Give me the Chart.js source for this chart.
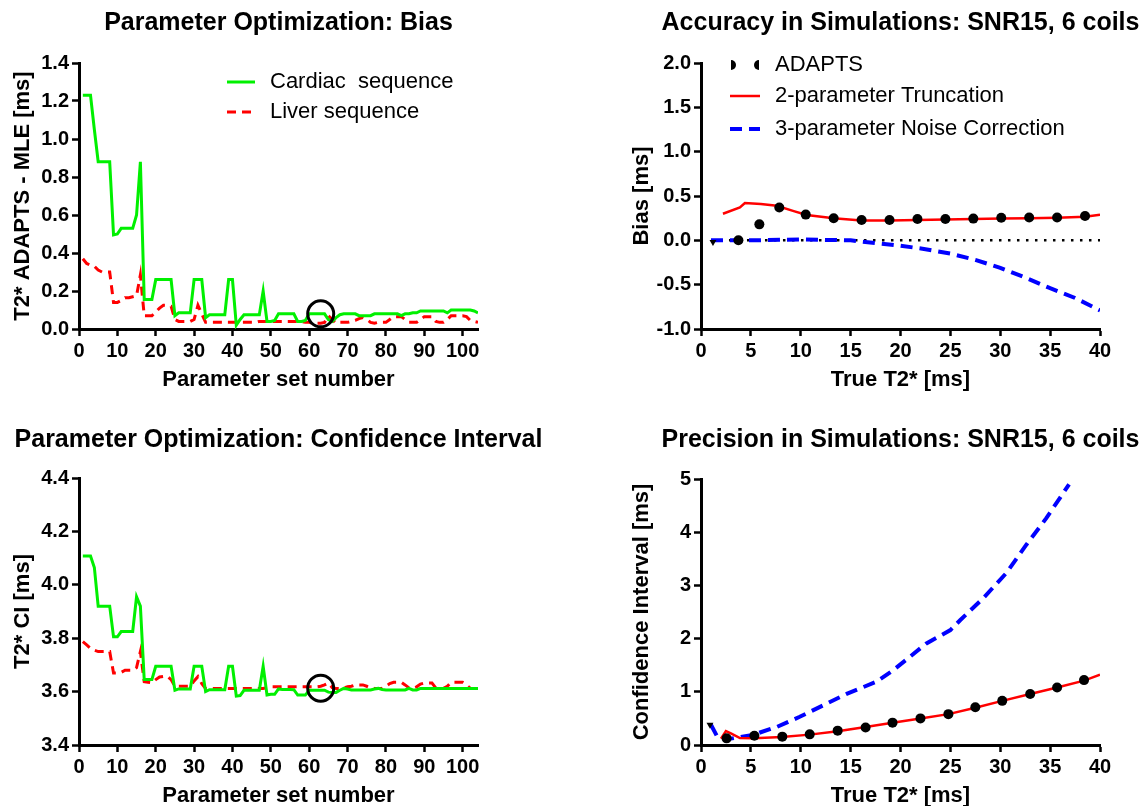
<!DOCTYPE html>
<html>
<head>
<meta charset="utf-8">
<title>T2* parameter optimization and simulations</title>
<script src="https://cdn.jsdelivr.net/npm/chart.js@4.4.0/dist/chart.umd.min.js"></script>
<style>
  html, body { margin: 0; padding: 0; background: #fff; overflow: hidden; width: 1147px; height: 806px; }
  canvas { position: absolute; }
</style>
</head>
<body>
<canvas id="biasOpt" width="573" height="415" style="left:0;top:0"></canvas>
<canvas id="ciOpt" width="573" height="420" style="left:0;top:415px"></canvas>
<canvas id="accuracy" width="574" height="415" style="left:573px;top:0"></canvas>
<canvas id="precision" width="574" height="420" style="left:573px;top:415px"></canvas>
<script>
// ---- Parameter optimization (left column) ----
const setNumber = Array.from({ length: 104 }, (_, i) => i + 1);

const cardiacBias = [
  1.23, 1.23, 1.23, 1.05, 0.88, 0.88, 0.88, 0.88, 0.495, 0.50,
  0.53, 0.53, 0.53, 0.53, 0.60, 0.88, 0.155, 0.155, 0.155, 0.26,
  0.26, 0.26, 0.26, 0.26, 0.07, 0.085, 0.085, 0.085, 0.085, 0.26,
  0.26, 0.26, 0.06, 0.075, 0.075, 0.075, 0.075, 0.075, 0.26, 0.26,
  0.02, 0.05, 0.075, 0.075, 0.075, 0.075, 0.075, 0.20, 0.04, 0.04,
  0.045, 0.08, 0.08, 0.08, 0.08, 0.08, 0.04, 0.04, 0.045, 0.08,
  0.08, 0.08, 0.08, 0.08, 0.05, 0.04, 0.06, 0.075, 0.08, 0.08,
  0.08, 0.08, 0.07, 0.07, 0.07, 0.07, 0.08, 0.08, 0.08, 0.08,
  0.08, 0.08, 0.08, 0.07, 0.08, 0.08, 0.085, 0.085, 0.095, 0.095,
  0.095, 0.095, 0.095, 0.095, 0.095, 0.085, 0.10, 0.10, 0.10, 0.10,
  0.10, 0.10, 0.095, 0.085
];
const liverBias = [
  0.37, 0.345, 0.335, 0.33, 0.31, 0.30, 0.30, 0.30, 0.14, 0.14,
  0.15, 0.165, 0.165, 0.17, 0.175, 0.285, 0.07, 0.07, 0.07, 0.09,
  0.11, 0.125, 0.125, 0.12, 0.05, 0.04, 0.04, 0.04, 0.04, 0.05,
  0.125, 0.08, 0.035, 0.035, 0.035, 0.035, 0.035, 0.035, 0.035, 0.035,
  0.035, 0.035, 0.035, 0.035, 0.035, 0.035, 0.04, 0.04, 0.04, 0.04,
  0.04, 0.04, 0.04, 0.04, 0.04, 0.04, 0.04, 0.04, 0.035, 0.035,
  0.03, 0.03, 0.03, 0.035, 0.07, 0.05, 0.03, 0.035, 0.035, 0.035,
  0.04, 0.045, 0.055, 0.06, 0.05, 0.035, 0.03, 0.035, 0.035, 0.035,
  0.05, 0.065, 0.065, 0.065, 0.05, 0.035, 0.035, 0.035, 0.05, 0.065,
  0.065, 0.065, 0.04, 0.035, 0.035, 0.05, 0.07, 0.07, 0.07, 0.07,
  0.065, 0.045, 0.04, 0.035
];
const cardiacCI = [
  4.108, 4.108, 4.108, 4.065, 3.92, 3.92, 3.92, 3.92, 3.805, 3.805,
  3.825, 3.825, 3.825, 3.825, 3.955, 3.92, 3.645, 3.645, 3.645, 3.695,
  3.695, 3.695, 3.695, 3.695, 3.605, 3.61, 3.61, 3.61, 3.61, 3.695,
  3.695, 3.695, 3.60, 3.607, 3.607, 3.607, 3.607, 3.607, 3.695, 3.695,
  3.583, 3.585, 3.605, 3.605, 3.605, 3.605, 3.605, 3.695, 3.587, 3.59,
  3.59, 3.61, 3.608, 3.608, 3.608, 3.607, 3.587, 3.587, 3.587, 3.605,
  3.605, 3.605, 3.605, 3.605, 3.598, 3.597, 3.597, 3.605, 3.612, 3.61,
  3.606, 3.606, 3.606, 3.606, 3.606, 3.606, 3.61, 3.612, 3.608, 3.606,
  3.606, 3.606, 3.606, 3.606, 3.606, 3.612, 3.606, 3.606, 3.612, 3.612,
  3.612, 3.612, 3.612, 3.612, 3.612, 3.612, 3.612, 3.612, 3.612, 3.612,
  3.612, 3.612, 3.612, 3.612
];
const liverCI = [
  3.787, 3.775, 3.762, 3.755, 3.75, 3.75, 3.75, 3.75, 3.67, 3.67,
  3.672, 3.68, 3.68, 3.68, 3.69, 3.75, 3.637, 3.635, 3.633, 3.645,
  3.655, 3.657, 3.658, 3.645, 3.62, 3.62, 3.62, 3.62, 3.62, 3.64,
  3.656, 3.63, 3.612, 3.612, 3.612, 3.612, 3.612, 3.612, 3.612, 3.612,
  3.612, 3.612, 3.612, 3.612, 3.612, 3.612, 3.612, 3.612, 3.615, 3.618,
  3.618, 3.618, 3.618, 3.618, 3.618, 3.618, 3.618, 3.618, 3.618, 3.618,
  3.618, 3.618, 3.62, 3.625, 3.632, 3.615, 3.612, 3.612, 3.614, 3.618,
  3.62, 3.625, 3.625, 3.625, 3.62, 3.614, 3.612, 3.612, 3.612, 3.62,
  3.63, 3.635, 3.635, 3.635, 3.625, 3.614, 3.613, 3.618, 3.628, 3.632,
  3.632, 3.632, 3.614, 3.612, 3.612, 3.62, 3.635, 3.635, 3.635, 3.635,
  3.625, 3.612, 3.612, 3.612
];
// chosen parameter set (ringed)
const chosenSet = [63];
const chosenBias = [0.08];
const chosenCI = [3.613];

// ---- Simulations, SNR15, 6 coils (right column) ----
const adaptsT2Acc = [1.2, 3.75, 5.85, 7.85, 10.5, 13.3, 16.1, 18.9, 21.7, 24.5, 27.3, 30.1, 32.9, 35.7, 38.5];
const adaptsBias  = [-0.02, 0.0, 0.18, 0.37, 0.29, 0.25, 0.23, 0.23, 0.24, 0.24, 0.245, 0.255, 0.257, 0.257, 0.275];
const truncT2Acc  = [2.2, 3.9, 4.4, 6.0, 7.6, 9.3, 10.6, 13.3, 16.1, 18.9, 21.7, 24.5, 27.3, 30.1, 32.9, 35.7, 38.5, 40];
const truncBias   = [0.30, 0.37, 0.42, 0.41, 0.39, 0.33, 0.285, 0.25, 0.225, 0.225, 0.23, 0.235, 0.24, 0.245, 0.25, 0.255, 0.265, 0.29];
const noiseT2Acc  = [1, 5, 10, 12.5, 15, 17.5, 20, 22.5, 25, 27.5, 30, 32.5, 35, 37.5, 40];
const noiseBias   = [0, 0, 0.01, 0.005, 0, -0.03, -0.06, -0.1, -0.15, -0.22, -0.31, -0.42, -0.54, -0.65, -0.79];
const zeroT2      = [1, 40];
const zeroBias    = [0, 0];

const adaptsT2Prec = [0.9, 2.57, 5.35, 8.15, 10.9, 13.7, 16.5, 19.2, 22.0, 24.8, 27.5, 30.2, 33.0, 35.7, 38.4];
const adaptsCI     = [0.38, 0.125, 0.175, 0.157, 0.20, 0.27, 0.33, 0.42, 0.50, 0.58, 0.71, 0.83, 0.96, 1.08, 1.22];
const truncT2Prec  = [2.0, 2.5, 3.0, 3.9, 5.3, 8.1, 10.9, 13.7, 16.5, 19.2, 22.0, 24.8, 27.5, 30.2, 33.0, 35.7, 38.4, 40];
const truncCI      = [0.12, 0.26, 0.22, 0.13, 0.125, 0.15, 0.195, 0.26, 0.34, 0.42, 0.50, 0.58, 0.70, 0.83, 0.96, 1.08, 1.21, 1.32];
const noiseT2Prec  = [1.0, 1.7, 3.0, 5.2, 7.6, 9.9, 12.3, 14.6, 17.6, 19.3, 22.6, 25.0, 26.0, 28.3, 30.6, 32.6, 34.6, 36.9];
const noiseCI      = [0.38, 0.13, 0.12, 0.19, 0.34, 0.53, 0.75, 0.96, 1.19, 1.41, 1.91, 2.16, 2.35, 2.76, 3.23, 3.76, 4.26, 4.9];

// ---- helpers ----
const FONT = '"Liberation Sans", Arial, Helvetica, sans-serif';
Chart.defaults.font.family = FONT;
Chart.defaults.color = '#000';
Chart.defaults.animation = false;
Chart.defaults.events = [];

const GREEN = '#00f000';
const RED = '#ff0000';
const BLUE = '#0000ff';

const pts = (xs, ys) => xs.map((x, i) => ({ x, y: ys[i] }));
const fixed = d => v => (Math.abs(v) < 1e-9 ? 0 : v).toFixed(d);

// panel heading, centred over the plot area
const panelTitle = {
  id: 'panelTitle',
  afterDraw(chart, args, o) {
    const { ctx, chartArea } = chart;
    ctx.save();
    ctx.font = 'bold 25px ' + FONT;
    ctx.fillStyle = '#000';
    ctx.textAlign = 'center';
    ctx.textBaseline = 'middle';
    ctx.fillText(o.text, (chartArea.left + chartArea.right) / 2, o.y);
    ctx.restore();
  }
};

// legend drawn inside the plot area, samples taken from the dataset styles
const panelLegend = {
  id: 'panelLegend',
  afterDraw(chart, args, o) {
    if (!o.items) return;
    const ctx = chart.ctx;
    const ds = chart.data.datasets;
    ctx.save();
    ctx.font = '22px ' + FONT;
    ctx.textBaseline = 'middle';
    ctx.textAlign = 'left';
    o.items.forEach(it => {
      const d = ds[it.dataset];
      if (it.kind === 'dots') {
        ctx.fillStyle = '#000';
        ctx.beginPath(); ctx.arc(o.x0 + 1, it.y, 5, -Math.PI / 2, Math.PI / 2); ctx.fill();
        ctx.beginPath(); ctx.arc(o.x1 - 1, it.y, 5, Math.PI / 2, Math.PI * 1.5); ctx.fill();
      } else {
        ctx.strokeStyle = d.borderColor;
        ctx.lineWidth = d.borderWidth;
        ctx.setLineDash(d.borderDash || []);
        ctx.beginPath(); ctx.moveTo(o.x0, it.y); ctx.lineTo(o.x1, it.y); ctx.stroke();
        ctx.setLineDash([]);
      }
      ctx.fillStyle = '#000';
      ctx.fillText(d.label, o.textX, it.y);
    });
    ctx.restore();
  }
};

function axis(cfg) {
  return {
    type: 'linear',
    min: cfg.min,
    max: cfg.max,
    border: { display: true, color: '#000', width: 3 },
    grid: { display: true, drawOnChartArea: false, drawTicks: true, tickLength: 7, tickWidth: 2.5, tickColor: '#000' },
    ticks: {
      stepSize: cfg.step, autoSkip: false, maxRotation: 0, minRotation: 0, includeBounds: false,
      color: '#000', padding: 3, font: { size: 20, weight: 'bold' }, callback: cfg.fmt
    },
    title: { display: true, text: cfg.title, color: '#000', font: { size: 22, weight: 'bold' }, padding: cfg.titlePad },
    afterFit: cfg.fit
  };
}

function panel(id, datasets, opts) {
  return new Chart(document.getElementById(id), {
    type: 'line',
    data: { datasets },
    options: {
      responsive: false,
      animation: false,
      layout: { padding: opts.padding },
      elements: { line: { tension: 0 } },
      scales: {
        x: axis(Object.assign({ titlePad: { top: 0, bottom: 0 }, fit: s => { s.height = 64; } }, opts.x)),
        y: axis(Object.assign({ fit: s => { s.width = opts.yWidth; } }, opts.y))
      },
      plugins: {
        legend: { display: false },
        tooltip: { enabled: false },
        panelTitle: opts.heading,
        panelLegend: opts.legend || {}
      }
    },
    plugins: [panelTitle, panelLegend]
  });
}

const ring = (xs, ys) => ({
  label: 'chosen', data: pts(xs, ys), showLine: false,
  pointRadius: 13, pointBorderWidth: 3, pointBorderColor: '#000', pointBackgroundColor: 'rgba(0,0,0,0)'
});
const cardiac = ys => ({
  label: 'Cardiac  sequence', data: pts(setNumber, ys),
  borderColor: GREEN, borderWidth: 3, pointRadius: 0
});
const liver = ys => ({
  label: 'Liver sequence', data: pts(setNumber, ys),
  borderColor: RED, borderWidth: 3, borderDash: [9, 6], pointRadius: 0
});
const adapts = (xs, ys) => ({
  label: 'ADAPTS', data: pts(xs, ys), showLine: false,
  pointRadius: xs.map((_, i) => (i === 0 ? 4 : 5)),
  pointStyle: xs.map((_, i) => (i === 0 ? 'triangle' : 'circle')),
  pointRotation: xs.map((_, i) => (i === 0 ? 180 : 0)),
  pointBackgroundColor: '#000', pointBorderColor: '#000', pointBorderWidth: 0
});
const trunc = (xs, ys) => ({
  label: '2-parameter Truncation', data: pts(xs, ys),
  borderColor: RED, borderWidth: 2.5, pointRadius: 0
});
const noise = (xs, ys) => ({
  label: '3-parameter Noise Correction', data: pts(xs, ys),
  borderColor: BLUE, borderWidth: 4, borderDash: [12, 7], pointRadius: 0
});

const setAxis = { min: 0, max: 104, step: 10, fmt: fixed(0), title: 'Parameter set number' };
const t2Axis = { min: 0, max: 40, step: 5, fmt: fixed(0), title: 'True T2* [ms]' };

panel('biasOpt',
  [ring(chosenSet, chosenBias), cardiac(cardiacBias), liver(liverBias)],
  {
    padding: { top: 63, left: 0, right: 95, bottom: 22 },
    yWidth: 79,
    x: setAxis,
    y: { min: 0, max: 1.4, step: 0.2, fmt: fixed(1), title: 'T2* ADAPTS - MLE [ms]', titlePad: { top: 10, bottom: 0 } },
    heading: { text: 'Parameter Optimization: Bias', y: 23 },
    legend: { x0: 227, x1: 255, textX: 270, items: [{ dataset: 1, y: 82 }, { dataset: 2, y: 112 }] }
  });

panel('ciOpt',
  [ring(chosenSet, chosenCI), cardiac(cardiacCI), liver(liverCI)],
  {
    padding: { top: 63, left: 0, right: 95, bottom: 26 },
    yWidth: 79,
    x: setAxis,
    y: { min: 3.4, max: 4.4, step: 0.2, fmt: fixed(1), title: 'T2* CI [ms]', titlePad: { top: 10, bottom: 0 } },
    heading: { text: 'Parameter Optimization: Confidence Interval', y: 25 }
  });

panel('accuracy',
  [
    adapts(adaptsT2Acc, adaptsBias),
    trunc(truncT2Acc, truncBias),
    noise(noiseT2Acc, noiseBias),
    { label: 'zero', data: pts(zeroT2, zeroBias), borderColor: '#000', borderWidth: 2.5, borderDash: [2.5, 6.5], pointRadius: 0 }
  ],
  {
    padding: { top: 63, left: 53, right: 47, bottom: 22 },
    yWidth: 75,
    x: t2Axis,
    y: { min: -1, max: 2, step: 0.5, fmt: fixed(1), title: 'Bias [ms]', titlePad: { top: 3, bottom: 0 } },
    heading: { text: 'Accuracy in Simulations: SNR15, 6 coils', y: 23 },
    legend: { x0: 157, x1: 187, textX: 202, items: [{ dataset: 0, y: 65, kind: 'dots' }, { dataset: 1, y: 96 }, { dataset: 2, y: 129 }] }
  });

panel('precision',
  [
    adapts(adaptsT2Prec, adaptsCI),
    trunc(truncT2Prec, truncCI),
    noise(noiseT2Prec, noiseCI)
  ],
  {
    padding: { top: 64, left: 53, right: 47, bottom: 26 },
    yWidth: 75,
    x: t2Axis,
    y: { min: 0, max: 5, step: 1, fmt: fixed(0), title: 'Confidence Interval [ms]', titlePad: { top: 3, bottom: 0 } },
    heading: { text: 'Precision in Simulations: SNR15, 6 coils', y: 25 }
  });
</script>
</body>
</html>
